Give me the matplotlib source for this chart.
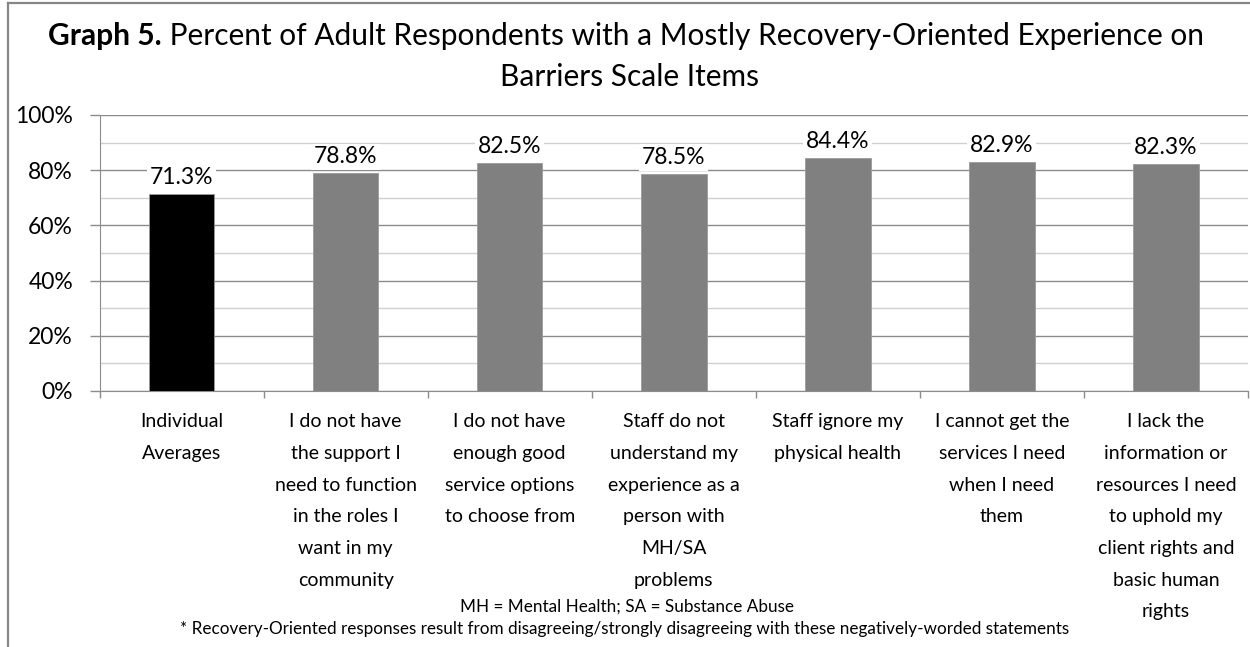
import matplotlib.pyplot as plt
from matplotlib.lines import Line2D
from matplotlib.ticker import MultipleLocator, FixedLocator, PercentFormatter

plt.rcParams["font.family"] = ["Lato", "DejaVu Sans"]

categories = [
    "Individual\nAverages",
    "I do not have\nthe support I\nneed to function\nin the roles I\nwant in my\ncommunity",
    "I do not have\nenough good\nservice options\nto choose from",
    "Staff do not\nunderstand my\nexperience as a\nperson with\nMH/SA\nproblems",
    "Staff ignore my\nphysical health",
    "I cannot get the\nservices I need\nwhen I need\nthem",
    "I lack the\ninformation or\nresources I need\nto uphold my\nclient rights and\nbasic human\nrights",
]
values = [71.3, 78.8, 82.5, 78.5, 84.4, 82.9, 82.3]
bar_colors = ["#000000"] + ["#808080"] * 6

W, H = 1250, 647
fig = plt.figure(figsize=(W / 100, H / 100), dpi=100)
ax = fig.add_axes([0.0796, 0.3957, 0.9188, 0.4266])

x = range(len(values))
ax.bar(x, values, width=0.4, color=bar_colors, edgecolor="#9a9a9a",
       linewidth=0.6, zorder=3)

# value labels sit on a white box so the gridlines break behind them
for xi, v in zip(x, values):
    ax.text(xi, v + 2.2, f"{v:.1f}%", ha="center", va="bottom", fontsize=16.5,
            color="#000000", zorder=4,
            bbox=dict(facecolor="white", edgecolor="none", pad=2))

ax.set_xlim(-0.5, len(values) - 0.5)
ax.set_ylim(0, 100)

# y axis: major grid every 20%, lighter minor grid every 10%
ax.yaxis.set_major_locator(MultipleLocator(20))
ax.yaxis.set_minor_locator(MultipleLocator(10))
ax.yaxis.set_major_formatter(PercentFormatter(decimals=0))
ax.grid(axis="y", which="major", color="#8c8c8c", linewidth=1.0, zorder=0)
ax.grid(axis="y", which="minor", color="#d0d0d0", linewidth=1.0, zorder=0)
ax.tick_params(axis="y", which="major", length=7, width=1.0, color="#8c8c8c",
               labelsize=16.5, pad=12)
ax.tick_params(axis="y", which="minor", length=0)

# x axis: labels at bar centres, tick marks between categories
ax.set_xticks(list(x))
ax.set_xticklabels(categories, fontsize=14, linespacing=2.05, va="top")
ax.xaxis.set_minor_locator(FixedLocator([i - 0.5 for i in range(len(values) + 1)]))
ax.tick_params(axis="x", which="major", length=0, pad=16)
ax.tick_params(axis="x", which="minor", length=5, width=1.0, color="#8c8c8c")

for side in ["top", "right"]:
    ax.spines[side].set_visible(False)
ax.spines["left"].set_color("#8c8c8c")
ax.spines["bottom"].set_color("#8c8c8c")
ax.set_axisbelow(True)

# title: bold lead-in followed by regular text, centred as one line
title_bold = "Graph 5."
title_rest = " Percent of Adult Respondents with a Mostly Recovery-Oriented Experience on"
t0 = fig.text(0, 0.944, title_bold, fontsize=21.5, fontweight="bold", va="center")
t1 = fig.text(0, 0.944, title_rest, fontsize=21.5, va="center")
fig.canvas.draw()
r = fig.canvas.get_renderer()
w0 = t0.get_window_extent(r).width
w1 = t1.get_window_extent(r).width
start = (W - (w0 + w1)) / 2 + 1
t0.set_x(start / W)
t1.set_x((start + w0) / W)
fig.text(0.5 + 4 / W, 0.881, "Barriers Scale Items", fontsize=21.5,
         ha="center", va="center")

# footnotes
fig.text(0.502, 0.062, "MH = Mental Health; SA = Substance Abuse", fontsize=12.3,
         ha="center", va="center")
fig.text(0.500, 0.028,
         "* Recovery-Oriented responses result from disagreeing/strongly "
         "disagreeing with these negatively-worded statements",
         fontsize=12.3, ha="center", va="center")

# chart area border (left and top edges)
fig.add_artist(Line2D([8 / W, 8 / W], [0, 1 - 3 / H],
                      transform=fig.transFigure, color="#868686", linewidth=1.6))
fig.add_artist(Line2D([8 / W, 1], [1 - 3 / H, 1 - 3 / H],
                      transform=fig.transFigure, color="#868686", linewidth=1.6))

fig.savefig("out.png", dpi=100)
